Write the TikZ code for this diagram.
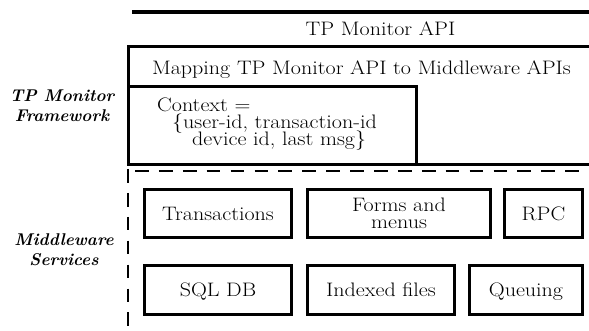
\documentclass[tikz,border=0pt]{standalone}
\usepackage{graphicx}
\newcommand{\wtxt}[1]{\scalebox{1.13}[1]{#1}}
\begin{document}
\begin{tikzpicture}[x=1pt,y=-1pt,
  txt/.style={inner sep=0pt, font=\fontsize{19.5}{17}\selectfont},
  lbl/.style={inner sep=0pt, align=center, font=\fontsize{17}{20}\selectfont\bfseries\itshape},
  svc/.style={draw, line width=2.5pt, inner sep=0pt, font=\fontsize{19.5}{17}\selectfont,
              text height=13.5pt, text depth=0pt},
  svc2/.style={draw, line width=2.5pt, inner sep=0pt, align=center, font=\fontsize{19.5}{17}\selectfont},
  frame/.style={line width=3pt},
  dsh/.style={line width=1.8pt, dash pattern=on 13.7pt off 10.2pt}]
\useasboundingbox (0,0) rectangle (589,331);

% TP Monitor layers
\coordinate (topL) at (132,12);
\coordinate (topR) at (589,12);
\draw[line width=4pt] (topL) -- (topR);
\node[txt, anchor=base] (api) at (380.5,36) {\wtxt{TP Monitor API}};

\coordinate (fTL) at (128,46.5);
\coordinate (fTR) at (589,46.5);
\coordinate (fBL) at (128,164.5);
\coordinate (fBR) at (589,164.5);
\draw[frame] (fTR) -- (fTL) -- (fBL) -- (fBR);
\node[txt, anchor=base] (map) at (361.5,75) {\wtxt{Mapping TP Monitor API to Middleware APIs}};

\coordinate (cTL) at (128,86.5);
\coordinate (cTR) at (416,86.5);
\coordinate (cBR) at (416,164.5);
\draw[frame] (cTL) -- (cTR) -- (cBR);
\node[txt, anchor=base west] (ctx1) at (157,112) {\wtxt{Context =}};
\node[txt, anchor=base west] (ctx2) at (172,129) {\wtxt{\{user-id, transaction-id}};
\node[txt, anchor=base west] (ctx3) at (192,146) {\wtxt{device id, last msg\}}};

% dashed separator
\coordinate (dTR) at (589,171);
\coordinate (dTL) at (135,171);
\coordinate (dC) at (128,169);
\coordinate (dB) at (128,331);
\draw[dsh] (dTL) -- (dTR);
\draw[dsh] (dC) -- (dB);

% side labels
\node[lbl] (fw) at (62,106) {TP Monitor\\Framework};
\node[lbl] (mw) at (64,250) {Middleware\\Services};

% middleware services
\node[svc, minimum width=147.4pt, minimum height=48.4pt] (trans) at (218,213.5) {\wtxt{Transactions}};
\node[svc2, minimum width=183.4pt, minimum height=48.4pt] (forms) at (399,213.5) {\wtxt{Forms and}\\\wtxt{menus}};
\node[svc, minimum width=78.4pt, minimum height=48.4pt] (rpc) at (543.5,213.5) {\wtxt{RPC}};
\node[svc, minimum width=147.4pt, minimum height=49.4pt] (sql) at (218,290) {\wtxt{SQL DB}};
\node[svc, minimum width=147.4pt, minimum height=49.4pt] (idx) at (381,290) {\wtxt{Indexed files}};
\node[svc, minimum width=113.4pt, minimum height=49.4pt] (que) at (526,290) {\wtxt{Queuing}};
\end{tikzpicture}
\end{document}
